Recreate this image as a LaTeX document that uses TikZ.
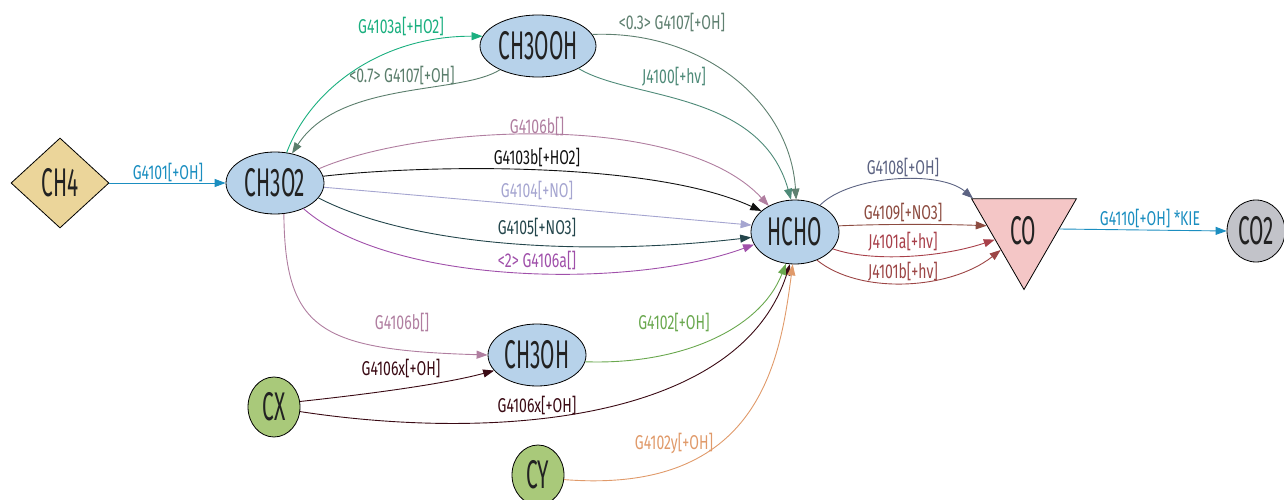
\documentclass[tikz,border=0pt]{standalone}
\usepackage{fontspec}
\setmainfont[FakeStretch=0.52]{Fira Sans}
\newfontfamily\labfont[FakeStretch=0.70]{Fira Sans}
\usetikzlibrary{shapes.geometric,arrows.meta}
\definecolor{cBlueFill}{HTML}{B7D2EA}
\definecolor{cTan}{HTML}{EBD59A}
\definecolor{cPink}{HTML}{F4C6C6}
\definecolor{cGray}{HTML}{C2C3C9}
\definecolor{cGreenFill}{HTML}{A9C97A}
\definecolor{cTxt}{HTML}{222222}
\definecolor{eBlue}{HTML}{1B8EC0}
\definecolor{eGreen}{HTML}{1AAF7F}
\definecolor{eSage}{HTML}{5B7E6C}
\definecolor{eSage2}{HTML}{5F8070}
\definecolor{eTeal}{HTML}{4E8A78}
\definecolor{eMauve}{HTML}{B07EA0}
\definecolor{eBlack}{HTML}{111111}
\definecolor{eLav}{HTML}{A5A5D0}
\definecolor{eDTeal}{HTML}{24464C}
\definecolor{ePurp}{HTML}{A050AA}
\definecolor{eMaroon}{HTML}{3A0A14}
\definecolor{eLGreen}{HTML}{6AA84F}
\definecolor{eOrange}{HTML}{E09A6A}
\definecolor{eSlate}{HTML}{5C6382}
\definecolor{eBrown}{HTML}{8C4B40}
\definecolor{eRed}{HTML}{A8404A}
\definecolor{eRed2}{HTML}{9C4545}
\tikzset{
  species/.style={draw=black, line width=0.8pt, inner sep=0pt, text=cTxt,
    font=\fontsize{40}{41}\selectfont},
  oval/.style={species, ellipse, fill=cBlueFill},
  lab/.style={inner sep=0pt, font=\labfont\fontsize{20}{21}\selectfont},
  rx/.style={line width=0.9pt, -{Triangle[length=11pt,width=8pt]}},
}
\begin{document}
\begin{tikzpicture}[x=1pt,y=1pt]
\useasboundingbox (0,0) rectangle (1284,-500);
% species
\node[species, diamond, fill=cTan, minimum width=98pt, minimum height=90pt, aspect=1.09] (ch4) at (60,-183) {CH4};
\node[oval, minimum width=98pt, minimum height=62pt] (ch3o2) at (275,-183) {CH3O2};
\node[oval, minimum width=116pt, minimum height=62pt] (ch3ooh) at (538,-46) {CH3OOH};
\node[oval, minimum width=88pt, minimum height=64pt] (hcho) at (795,-232) {HCHO};
\node[oval, minimum width=98pt, minimum height=62pt] (ch3oh) at (537,-355) {CH3OH};
\node[species, regular polygon, regular polygon sides=3, shape border rotate=180, fill=cPink, minimum size=121pt] (co) at (1024,-229) {};
\node[text=cTxt, font=\fontsize{40}{41}\selectfont, inner sep=0pt] (cotext) at (1023,-231) {CO};
\node[species, ellipse, fill=cGray, minimum width=58pt, minimum height=62pt] (co2) at (1256,-231) {CO2};
\node[species, ellipse, fill=cGreenFill, minimum width=52pt, minimum height=60pt] (cx) at (274,-407) {CX};
\node[species, ellipse, fill=cGreenFill, minimum width=52pt, minimum height=60pt] (cy) at (538,-475) {CY};
% connectors
\draw[rx, eBlue] (ch4.east) -- (ch3o2.west);
\draw[rx, eGreen] (ch3o2.69) .. controls (310,-90) and (380,-36) .. (ch3ooh.170);
\draw[rx, eSage] (ch3ooh.212) .. controls (460,-95) and (340,-80) .. (ch3o2.60);
\draw[rx, eSage2] (ch3ooh.12) .. controls (700,-30) and (790,-100) .. (hcho.88);
\draw[rx, eTeal] (ch3ooh.-29) .. controls (630,-100) and (760,-90) .. (hcho.97);
\draw[rx, eMauve] (ch3o2.18) .. controls (420,-125) and (680,-110) .. (hcho.135);
\draw[rx, eBlack] (ch3o2.8) .. controls (420,-165) and (650,-160) .. (hcho.148);
\draw[rx, eLav] (ch3o2.-5) .. controls (450,-198) and (650,-216) .. (hcho.171);
\draw[rx, eDTeal] (ch3o2.-19) .. controls (420,-250) and (600,-255) .. (hcho.187);
\draw[rx, ePurp] (ch3o2.-42) .. controls (390,-285) and (630,-290) .. (hcho.197);
\draw[rx, eMauve] (ch3o2.-74) .. controls (285,-330) and (320,-350) .. (ch3oh.west);
\draw[rx, eMaroon] (cx.12) .. controls (360,-395) and (440,-385) .. (ch3oh.200);
\draw[rx, eMaroon] (cx.-10) .. controls (500,-442) and (740,-420) .. (hcho.261);
\draw[rx, eLGreen] (ch3oh.-8) .. controls (680,-365) and (760,-330) .. (hcho.254);
\draw[rx, eOrange] (cy.-10) .. controls (760,-495) and (780,-360) .. (hcho.266);
\draw[rx, eSlate] (hcho.47) .. controls (850,-175) and (940,-170) .. (co.149);
\draw[rx, eBrown] (hcho.8) .. controls (880,-224) and (940,-224) .. (co.175);
\draw[rx, eRed] (hcho.-24) .. controls (870,-262) and (940,-258) .. (co.200);
\draw[rx, eRed2] (hcho.-52) .. controls (860,-295) and (950,-290) .. (co.222);
\draw[rx, eBlue] (co.east) -- (co2.west);
% labels
\node[lab, text=eBlue] (l1) at (168,-172) {G4101[+OH]};
\node[lab, text=eGreen] (l2) at (401,-27) {G4103a[+HO2]};
\node[lab, text=eSage] (l3) at (402,-76) {<0.7> G4107[+OH]};
\node[lab, text=eSage2] (l4) at (672,-23) {<0.3> G4107[+OH]};
\node[lab, text=eTeal] (l5) at (674,-77) {J4100[+hv]};
\node[lab, text=eMauve] (l6) at (537,-126) {G4106b[]};
\node[lab, text=eBlack] (l7) at (537,-157) {G4103b[+HO2]};
\node[lab, text=eLav] (l8) at (537,-190) {G4104[+NO]};
\node[lab, text=eDTeal] (l9) at (537,-227) {G4105[+NO3]};
\node[lab, text=ePurp] (l10) at (537,-260) {<2> G4106a[]};
\node[lab, text=eMauve] (l11) at (402,-322) {G4106b[]};
\node[lab, text=eMaroon] (l12) at (401,-368) {G4106x[+OH]};
\node[lab, text=eMaroon] (l13) at (537,-405) {G4106x[+OH]};
\node[lab, text=eLGreen] (l14) at (674,-322) {G4102[+OH]};
\node[lab, text=eOrange] (l15) at (674,-443) {G4102y[+OH]};
\node[lab, text=eSlate] (l16) at (903,-167) {G4108[+OH]};
\node[lab, text=eBrown] (l17) at (903,-212) {G4109[+NO3]};
\node[lab, text=eRed] (l18) at (903,-242) {J4101a[+hv]};
\node[lab, text=eRed2] (l19) at (903,-272) {J4101b[+hv]};
\node[lab, text=eBlue] (l20) at (1150,-218) {G4110[+OH] *KIE};
\end{tikzpicture}
\end{document}
